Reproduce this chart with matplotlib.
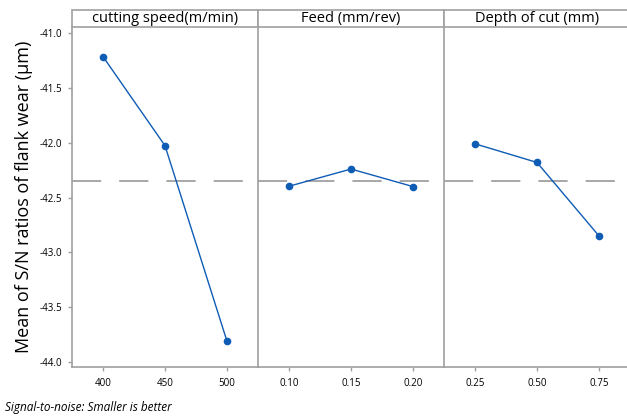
import matplotlib
matplotlib.use("Agg")
import matplotlib.pyplot as plt
from matplotlib.patches import Rectangle

plt.rcParams['font.family'] = ['Open Sans', 'DejaVu Sans']
plt.rcParams['lines.scale_dashes'] = False

factors = ["cutting speed(m/min)", "Feed (mm/rev)", "Depth of cut (mm)"]
speed_levels = ["400", "450", "500"]
feed_levels = ["0.10", "0.15", "0.20"]
depth_levels = ["0.25", "0.50", "0.75"]
speed_sn = [-41.215, -42.027, -43.81]
feed_sn = [-42.397, -42.24, -42.40]
depth_sn = [-42.01, -42.18, -42.85]
grand_mean = -42.35
yticks = [-41.0, -41.5, -42.0, -42.5, -43.0, -43.5, -44.0]

levels = [speed_levels, feed_levels, depth_levels]
values = [speed_sn, feed_sn, depth_sn]

W, H = 627, 416
fig = plt.figure(figsize=(W / 100, H / 100), dpi=100)
left, right, bottom, top = 72 / W, 630 / W, 1 - 367 / H, 1 - 27 / H
gs = fig.add_gridspec(1, 3, left=left, right=right, bottom=bottom, top=top, wspace=0)
gray = "#a0a0a0"
blue = "#0f5cb5"
header_h = 17 / (H * (top - bottom))

axes = []
for i in range(3):
    ax = fig.add_subplot(gs[0, i], sharey=axes[0] if axes else None)
    axes.append(ax)
    x = [1, 2, 3]
    ax.axhline(grand_mean, color=gray, lw=1.3, linestyle=(0, (21, 13)), zorder=2)
    ax.plot(x, values[i], color=blue, lw=1.0, marker='o', ms=4.5, zorder=3)
    ax.set_xlim(0.5, 3.5)
    ax.set_xticks(x)
    ax.set_xticklabels(levels[i], fontsize=7)
    for s in ax.spines.values():
        s.set_color(gray)
        s.set_linewidth(1.2)
    ax.spines['top'].set_visible(False)
    ax.spines['right'].set_visible(False)
    ax.tick_params(axis='x', colors=gray, length=3, width=1, labelcolor='black', pad=5)
    if i == 0:
        ax.tick_params(axis='y', colors=gray, length=3, width=1, labelcolor='black',
                       labelsize=7, pad=4)
    else:
        ax.tick_params(axis='y', left=False, labelleft=False)
    rect = Rectangle((0, 1), 1, header_h, transform=ax.transAxes, facecolor='white',
                     edgecolor=gray, lw=1.2, clip_on=False)
    ax.add_patch(rect)
    ax.text(0.5, 1 + header_h / 2, factors[i], transform=ax.transAxes, ha='center',
            va='center', fontsize=10.5)

axes[0].set_ylim(-44.045, -40.945)
axes[0].set_yticks(yticks)
axes[0].set_yticklabels([f"{v:.1f}" for v in yticks])
axes[0].set_ylabel("Mean of S/N ratios of flank wear (µm)", fontsize=13, labelpad=5)

fig.text(0.008, 1 - 407 / H, "Signal-to-noise: Smaller is better", fontsize=8.5,
         style='italic', va='center')

fig.savefig("out.png", dpi=100)
